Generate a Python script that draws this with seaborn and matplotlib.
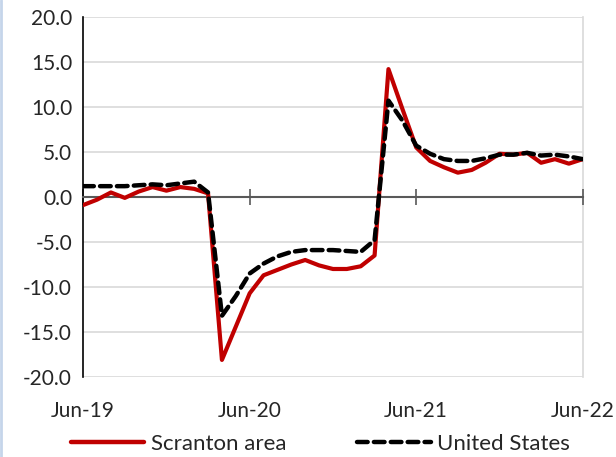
"""Scranton area vs United States, year-over-year change (Jun-19 to Jun-22)."""
import numpy as np
import pandas as pd
import matplotlib
matplotlib.use("Agg")
import matplotlib.pyplot as plt
from matplotlib.lines import Line2D
import seaborn as sns

# monthly points, Jun-19 .. Jun-22
months = pd.date_range("2019-06-01", "2022-06-01", freq="MS").strftime("%b-%y").tolist()

scranton = [-0.9, -0.3, 0.5, -0.1, 0.6, 1.1, 0.7, 1.1, 0.9, 0.4,
            -18.1, -14.4, -10.7, -8.7, -8.1, -7.5, -7.0, -7.6, -8.0, -8.0,
            -7.7, -6.5, 14.2, 9.8, 5.5, 4.0, 3.3, 2.7, 3.0, 3.8,
            4.8, 4.7, 4.9, 3.8, 4.2, 3.7, 4.2]
united_states = [1.2, 1.2, 1.2, 1.2, 1.3, 1.4, 1.3, 1.5, 1.7, 0.5,
                 -13.2, -11.0, -8.5, -7.4, -6.6, -6.1, -5.9, -5.9, -5.9, -6.0,
                 -6.1, -4.8, 10.7, 8.5, 5.7, 4.8, 4.2, 4.0, 4.0, 4.3,
                 4.7, 4.7, 4.9, 4.6, 4.7, 4.5, 4.2]

tick_months = ["Jun-19", "Jun-20", "Jun-21", "Jun-22"]
y_ticks = [-20, -15, -10, -5, 0, 5, 10, 15, 20]

df = pd.DataFrame({"idx": np.arange(len(months)), "month": months,
                   "Scranton area": scranton, "United States": united_states})

sns.set_style("white")
plt.rcParams["font.family"] = ["Lato", "DejaVu Sans"]

fig = plt.figure(figsize=(6.16, 4.57), dpi=100)
ax = fig.add_axes([0.135, 0.175, 0.811, 0.788])

red = "#C00000"
dash = (0, (2.4, 1.4))
sns.lineplot(data=df, x="idx", y="Scranton area", color=red, lw=3.0, ax=ax, zorder=3)
sns.lineplot(data=df, x="idx", y="United States", color="black", lw=3.2,
             ax=ax, zorder=4, linestyle=dash, dash_capstyle="round")

# zero line carries the x ticks; labels sit below the plot
ax.spines["bottom"].set_position(("data", 0))
ax.spines["bottom"].set_color("#595959")
ax.spines["bottom"].set_linewidth(1.5)
ax.spines["left"].set_color("black")
ax.spines["left"].set_linewidth(1.2)
ax.spines["top"].set_visible(False)
ax.spines["right"].set_color("#d9d9d9")
ax.spines["right"].set_linewidth(1.2)
ax.spines["right"].set_zorder(0.2)

ax.set_xlim(0, len(months) - 1)
ax.set_ylim(-20, 20)
ax.set_yticks(y_ticks)
ax.set_yticklabels([f"{v:.1f}" for v in y_ticks])
ax.yaxis.grid(True, color="#d9d9d9", lw=1.2)
ax.set_axisbelow(True)

tick_idx = [months.index(m) for m in tick_months]
ax.set_xticks(tick_idx)
ax.set_xticklabels(tick_months)
ax.tick_params(axis="x", direction="inout", length=12, width=1.2,
               color="#595959", pad=141, labelsize=15, bottom=True)
ax.tick_params(axis="y", length=0, pad=8, labelsize=15)
for t in ax.xaxis.get_major_ticks():
    t.tick1line.set_clip_on(False)
ax.set_xlabel("")
ax.set_ylabel("")

handles = [Line2D([], [], color=red, lw=3.2),
           Line2D([], [], color="black", lw=3.2, linestyle=dash, dash_capstyle="round")]
fig.legend(handles, ["Scranton area", "United States"], loc="center",
           bbox_to_anchor=(0.52, 0.028), ncol=2, frameon=False, fontsize=16,
           handlelength=3.3, handletextpad=0.3, columnspacing=3.2,
           borderpad=0.1)

# thin blue border at the left edge of the picture
fig.add_artist(Line2D([0.002, 0.002], [0, 1], color="#c5d5ea", lw=2,
                      transform=fig.transFigure))

fig.savefig("out.png", dpi=100)
